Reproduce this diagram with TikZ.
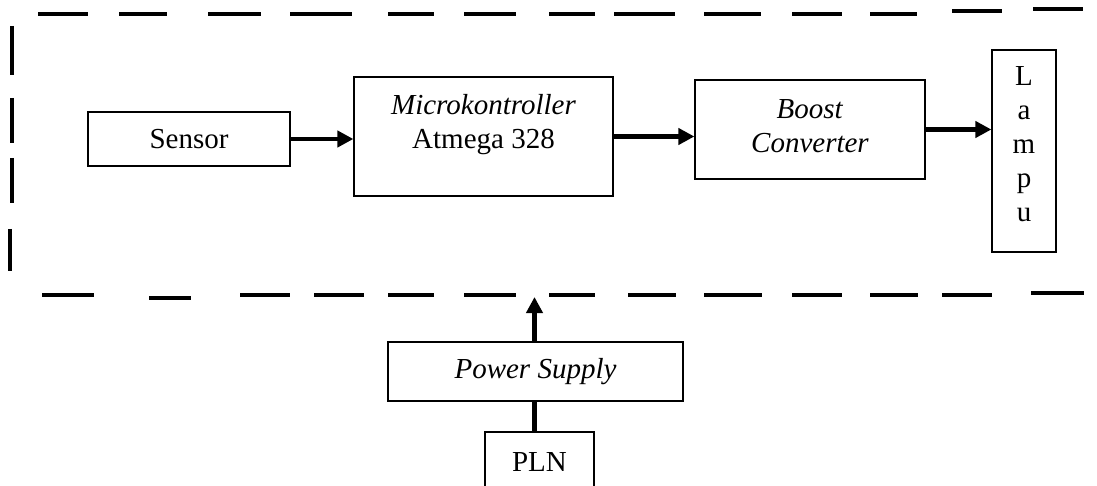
\documentclass[tikz,border=0pt]{standalone}
\usepackage{fontspec}
\setmainfont{Liberation Serif}
\usetikzlibrary{arrows.meta}
\tikzset{
  blk/.style={draw=black, line width=1.2pt, inner sep=0pt, align=center,
              font=\fontsize{29}{34}\selectfont},
  lbl/.style={inner sep=0pt, align=center, font=\fontsize{29}{34}\selectfont},
  flow/.style={line width=4.2pt, -{Triangle[length=16pt,width=16pt]}},
  feed/.style={line width=4.2pt},
  frame/.style={line width=4pt, line cap=butt}
}
\begin{document}
\begin{tikzpicture}[x=1pt,y=-1pt]
\useasboundingbox (0,0) rectangle (1097,486);
\clip (0,0) rectangle (1097,486);

% dashed boundary of the controller unit, drawn segment by segment
\foreach \a/\b in {38/88,119/167,208/261,290/352,388/434,464/516,549/595,614/675,704/761,792/842,870/917}
  \draw[frame] (\a,14.5) -- (\b,14.5);
\draw[frame] (952,11.5) -- (1002,11.5);
\draw[frame] (1033,9.5) -- (1083,9.5);
\foreach \a/\b in {26/75,98/143,158/203}
  \draw[frame] (12,\a) -- (12,\b);
\draw[frame] (10,229) -- (10,271);
\foreach \a/\b in {42/94,240/290,314/364,388/434,464/516,549/595,628/676,704/762,792/842,870/918,942/992}
  \draw[frame] (\a,295) -- (\b,295);
\draw[frame] (149,297.5) -- (191,297.5);
\draw[frame] (1031,293) -- (1084,293);

% blocks
\node[blk, minimum width=202pt, minimum height=54pt] (sensor) at (189,139) {Sensor};
\node[blk, minimum width=259pt, minimum height=119pt] (micro) at (483.5,136.5) {};
\node[lbl, anchor=north] (microtxt) at ([yshift=-18pt]micro.north) {\textit{Microkontroller}\\Atmega 328};
\node[blk, minimum width=230pt, minimum height=99pt] (boost) at (810,129.5) {};
\node[lbl] (boosttxt) at ([yshift=3pt]boost.center) {\textit{Boost}\\\textit{Converter}};
\node[blk, minimum width=64pt, minimum height=202pt] (lampu) at (1024,151) {};
\node[lbl, anchor=north] (lamputxt) at ([yshift=-17pt]lampu.north) {L\\a\\m\\p\\u};
\node[blk, minimum width=295pt, minimum height=59pt] (ps) at (535.5,371.5) {\textit{Power Supply}};
\node[blk, minimum width=109pt, minimum height=60pt] (pln) at (539.5,462) {PLN};

% signal and power flow
\coordinate (inlet) at (534.5,297);
\draw[flow] (sensor.east) -- (sensor.east -| micro.west);
\draw[flow] (micro.east) -- (micro.east -| boost.west);
\draw[flow] (boost.east) -- (boost.east -| lampu.west);
\draw[flow] (ps.north -| inlet) -- (inlet);
\draw[feed] (ps.south -| inlet) -- (pln.north -| inlet);
\end{tikzpicture}
\end{document}
